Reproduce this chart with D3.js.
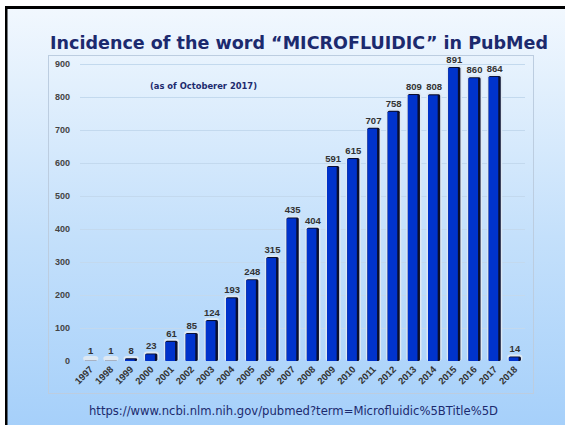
<!DOCTYPE html>
<meta charset="utf-8">
<head>
<style>
  body { margin: 0; background: #fff; }
  .val { font: bold 9.5px "Liberation Sans", Arial, sans-serif; fill: #333; }
  .xl { font: bold 9.5px "Liberation Sans", Arial, sans-serif; fill: #333; }
  .tick text { font: bold 9px "Liberation Sans", Arial, sans-serif; fill: #444; }
</style>
</head>
<script src="https://d3js.org/d3.v7.min.js"></script>
<div id="chart"></div>
<script>
// data
var years = ["1997","1998","1999","2000","2001","2002","2003","2004","2005","2006","2007",
             "2008","2009","2010","2011","2012","2013","2014","2015","2016","2017","2018"];
var counts = [1, 1, 8, 23, 61, 85, 124, 193, 248, 315, 435,
              404, 591, 615, 707, 758, 809, 808, 891, 860, 864, 14];
var yTicks = [0, 100, 200, 300, 400, 500, 600, 700, 800, 900];

var W = 565, H = 425;
var svg = d3.select("#chart").append("svg")
    .attr("width", W).attr("height", H);

// background gradient
var grad = svg.append("defs").append("linearGradient")
    .attr("id", "bg").attr("x1", 0).attr("y1", 0).attr("x2", 0).attr("y2", 1);
grad.append("stop").attr("offset", "0%").attr("stop-color", "#f2f8fe");
grad.append("stop").attr("offset", "55%").attr("stop-color", "#c4e0fb");
grad.append("stop").attr("offset", "100%").attr("stop-color", "#a6d0fa");

svg.append("rect").attr("x", 5).attr("y", 6).attr("width", W - 5).attr("height", H - 6)
    .attr("fill", "url(#bg)");
// black frame on top and left
svg.append("rect").attr("x", 5).attr("y", 6).attr("width", W - 5).attr("height", 3).attr("fill", "#000");
svg.append("rect").attr("x", 5).attr("y", 6).attr("width", 2.5).attr("height", H - 6).attr("fill", "#000");

// plot box
svg.append("rect").attr("x", 48.5).attr("y", 55.5).attr("width", 485).attr("height", 338)
    .attr("fill", "none").attr("stroke", "#bccde0").attr("stroke-width", 1);

var x = d3.scaleBand().domain(years).range([80.6, 525]).paddingInner(0.4).paddingOuter(0.2);
var y = d3.scaleLinear().domain([0, 900]).range([361, 64]);

// grid + y axis
var yAxis = svg.append("g")
    .attr("transform", "translate(80,0)")
    .call(d3.axisLeft(y).tickValues(yTicks).tickSize(-445).tickPadding(10));
yAxis.select(".domain").remove();
yAxis.selectAll(".tick line").attr("stroke", "#c3d9ee").attr("stroke-width", 1);
yAxis.selectAll(".tick line").filter(function(d) { return d === 0; }).remove();

// x labels rotated
svg.append("g").selectAll("text")
  .data(years)
  .enter().append("text")
    .attr("class", "xl")
    .attr("text-anchor", "end")
    .attr("transform", function(d) {
      return "translate(" + (x(d) + x.bandwidth() / 2 + 3) + ",370) rotate(-45)";
    })
    .text(function(d) { return d; });

var data = years.map(function(d, i) { return {year: d, value: counts[i]}; });
var bw = x.bandwidth();

var bars = svg.append("g").selectAll("g").data(data).enter().append("g");
// light glow
bars.append("rect")
    .attr("x", function(d) { return x(d.year) - 1.5; })
    .attr("y", function(d) { return Math.min(y(d.value), y(0) - 3) - 2; })
    .attr("width", bw + 3)
    .attr("height", function(d) { return Math.max(y(0) - y(d.value), 3) + 2; })
    .attr("rx", 3)
    .attr("fill", "#dde8f3");
// dark shadow
bars.append("rect")
    .attr("x", function(d) { return x(d.year); })
    .attr("y", function(d) { return y(d.value); })
    .attr("width", bw)
    .attr("height", function(d) { return y(0) - y(d.value); })
    .attr("rx", 1.5)
    .attr("fill", "#0a0f30");
// blue face
bars.append("rect")
    .attr("x", function(d) { return x(d.year); })
    .attr("y", function(d) { return Math.min(y(d.value) + 1, y(0)); })
    .attr("width", bw - 2.5)
    .attr("height", function(d) { return Math.max(y(0) - y(d.value) - 1, 0); })
    .attr("fill", "#0033cc");

// value labels
bars.append("text")
    .attr("class", "val")
    .attr("text-anchor", "middle")
    .attr("x", function(d) { return x(d.year) + bw / 2; })
    .attr("y", function(d) { return Math.min(y(d.value), y(0) - 3) - 4; })
    .text(function(d) { return d.value; });

// title, subtitle, source
svg.append("text")
    .attr("x", 50).attr("y", 49)
    .attr("textLength", 498).attr("lengthAdjust", "spacingAndGlyphs")
    .style("font", "bold 17px 'Comic Sans MS', 'DejaVu Sans', sans-serif")
    .style("fill", "#1c2a6e")
    .text("Incidence of the word \u201cMICROFLUIDIC\u201d in PubMed");

svg.append("text")
    .attr("x", 150).attr("y", 89)
    .attr("textLength", 107).attr("lengthAdjust", "spacingAndGlyphs")
    .style("font", "bold 8.5px 'Comic Sans MS', 'DejaVu Sans', sans-serif")
    .style("fill", "#1c2a6e")
    .text("(as of Octoberer 2017)");

svg.append("text")
    .attr("x", 89).attr("y", 415)
    .attr("textLength", 409).attr("lengthAdjust", "spacingAndGlyphs")
    .style("font", "12px 'Comic Sans MS', 'DejaVu Sans', sans-serif")
    .style("fill", "#1c2a6e")
    .text("https://www.ncbi.nlm.nih.gov/pubmed?term=Microfluidic%5BTitle%5D");
</script>
